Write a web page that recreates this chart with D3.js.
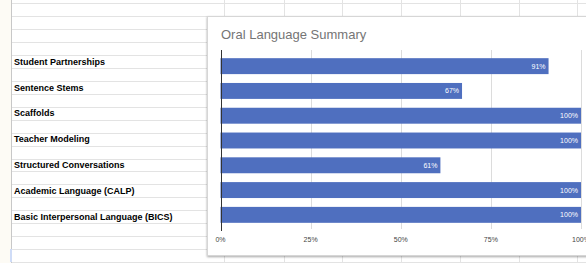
<!DOCTYPE html>
<html>
<head>
<meta charset="utf-8">
<script src="https://cdn.jsdelivr.net/npm/d3@7"></script>
<style>
  html, body { margin: 0; padding: 0; background: #fff; }
  svg { display: block; font-family: "Liberation Sans", Arial, sans-serif; }
</style>
</head>
<body>
<div id="chart"></div>
<script>
const categories = [
  "Student Partnerships",
  "Sentence Stems",
  "Scaffolds",
  "Teacher Modeling",
  "Structured Conversations",
  "Academic Language (CALP)",
  "Basic Interpersonal Language (BICS)"
];
const values = [0.91, 0.67, 1.0, 1.0, 0.61, 1.0, 1.0];
const ticks = [0, 0.25, 0.5, 0.75, 1];
const title = "Oral Language Summary";
// spreadsheet row where each label sits
const labelRows = [4, 6, 8, 10, 12, 14, 16];
const colLines = [224, 284, 342, 401, 460, 519, 577];

const width = 586, height = 263;

const svg = d3.select("#chart")
  .append("svg")
  .attr("width", width)
  .attr("height", height);

const defs = svg.append("defs");
const f = defs.append("filter").attr("id", "shadow")
  .attr("x", "-5%").attr("y", "-5%").attr("width", "110%").attr("height", "110%");
f.append("feDropShadow")
  .attr("dx", 0).attr("dy", 1)
  .attr("stdDeviation", 1.3)
  .attr("flood-color", "#000")
  .attr("flood-opacity", 0.35);

// sheet background
svg.append("rect").attr("x", 0).attr("y", 0).attr("width", 11).attr("height", height)
  .attr("fill", "#fdfbf5");

const row = d3.scaleLinear().domain([0, 20]).range([3.3, 262]);

svg.selectAll("line.row")
  .data(d3.range(0, 21))
  .enter().append("line")
  .attr("class", "row")
  .attr("x1", 11).attr("x2", width)
  .attr("y1", d => Math.round(row(d)) + 0.5)
  .attr("y2", d => Math.round(row(d)) + 0.5)
  .attr("stroke", "#e3e3e3");

svg.selectAll("line.col")
  .data(colLines)
  .enter().append("line")
  .attr("class", "col")
  .attr("x1", d => d + 0.5).attr("x2", d => d + 0.5)
  .attr("y1", 0).attr("y2", height)
  .attr("stroke", "#e3e3e3");

svg.append("line")
  .attr("x1", 11.5).attr("x2", 11.5)
  .attr("y1", 0).attr("y2", height)
  .attr("stroke", "#c8c8c8");

svg.append("rect").attr("x", 10).attr("y", 249).attr("width", 2).attr("height", 13)
  .attr("fill", "#cfdcf7");

// labels in the cells
svg.selectAll("text.cell")
  .data(categories)
  .enter().append("text")
  .attr("class", "cell")
  .attr("x", 14)
  .attr("y", (d, i) => row(labelRows[i] + 0.5))
  .attr("dy", "0.35em")
  .attr("font-size", 9)
  .attr("font-weight", "bold")
  .attr("fill", "#000")
  .text(d => d);

// chart box
svg.append("rect")
  .attr("x", 207.5).attr("y", 16.5)
  .attr("width", 420).attr("height", 239)
  .attr("fill", "#fff")
  .attr("stroke", "#d6d6d6")
  .attr("filter", "url(#shadow)");

svg.append("text")
  .attr("x", 221)
  .attr("y", 38.5)
  .attr("font-size", 13)
  .attr("fill", "#757575")
  .text(title);

const x = d3.scaleLinear().domain([0, 1]).range([220.5, 581]);
const y = d3.scaleBand()
  .domain(categories)
  .range([50, 231])
  .paddingInner(0.357)
  .paddingOuter(0.33);

// gridlines
svg.selectAll("line.grid")
  .data(ticks.slice(1))
  .enter().append("line")
  .attr("class", "grid")
  .attr("x1", d => Math.round(x(d)) + 0.5)
  .attr("x2", d => Math.round(x(d)) + 0.5)
  .attr("y1", 50).attr("y2", 229)
  .attr("stroke", "#dcdcdc");

svg.selectAll("rect.bar")
  .data(values)
  .enter().append("rect")
  .attr("class", "bar")
  .attr("x", x(0))
  .attr("y", (d, i) => y(categories[i]))
  .attr("width", d => x(d) - x(0))
  .attr("height", y.bandwidth())
  .attr("fill", "#4f6fbf");

svg.selectAll("text.val")
  .data(values)
  .enter().append("text")
  .attr("class", "val")
  .attr("x", d => x(d) - 3)
  .attr("y", (d, i) => y(categories[i]) + y.bandwidth() / 2)
  .attr("dy", "0.35em")
  .attr("text-anchor", "end")
  .attr("font-size", 7)
  .attr("fill", "#fff")
  .text(d => d3.format(".0%")(d));

// zero baseline
svg.append("line")
  .attr("x1", Math.round(x(0)) + 0.5).attr("x2", Math.round(x(0)) + 0.5)
  .attr("y1", 50).attr("y2", 231)
  .attr("stroke", "#333");

svg.selectAll("text.tick")
  .data(ticks)
  .enter().append("text")
  .attr("class", "tick")
  .attr("x", d => x(d))
  .attr("y", 242)
  .attr("text-anchor", "middle")
  .attr("font-size", 7)
  .attr("fill", "#444")
  .text(d => d3.format(".0%")(d));
</script>
</body>
</html>
